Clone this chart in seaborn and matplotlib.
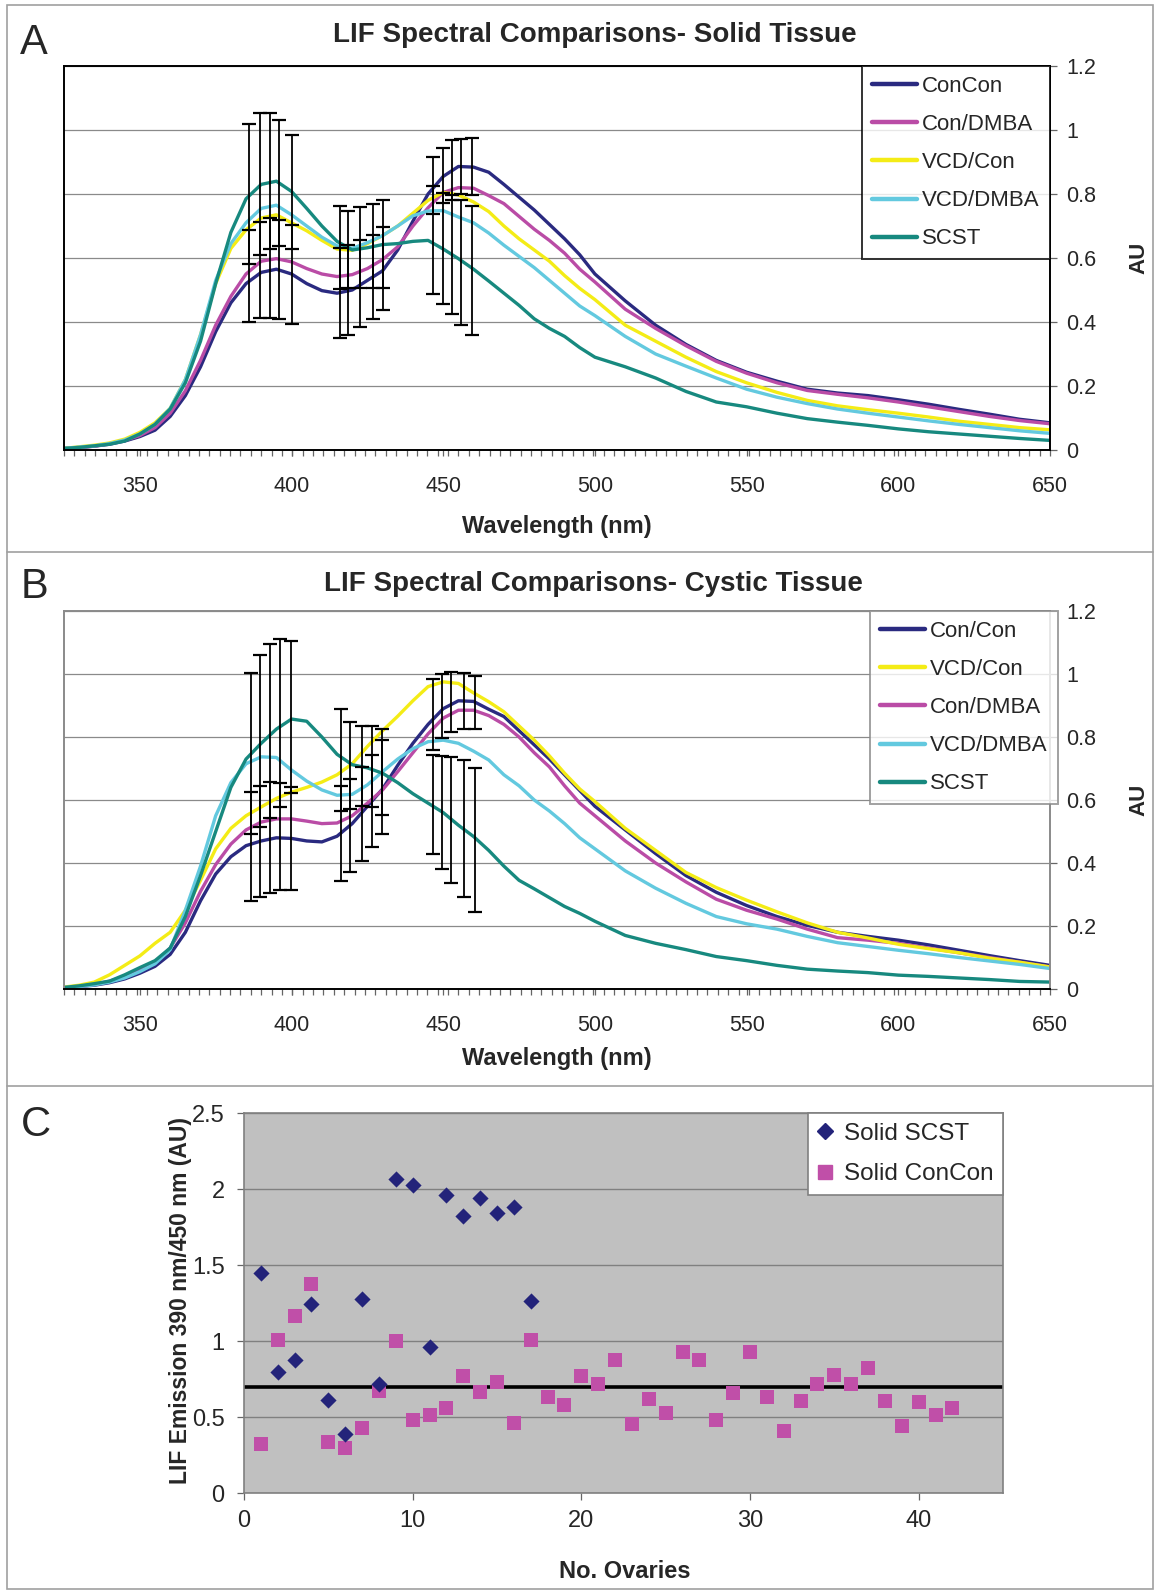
import matplotlib

matplotlib.use("Agg")
import matplotlib.pyplot as plt
import numpy as np
import pandas as pd
import seaborn as sns
from matplotlib.lines import Line2D
from matplotlib.patches import Rectangle
from matplotlib.ticker import FixedLocator

# ---------------- data ----------------
WAVELENGTH = [325, 330, 335, 340, 345, 350, 355, 360, 365, 370, 375, 380, 385, 390, 395,
              400, 405, 410, 415, 420, 425, 430, 435, 440, 445, 450, 455, 460, 465, 470,
              475, 480, 485, 490, 495, 500, 510, 520, 530, 540, 550, 560, 570, 580, 590,
              600, 610, 620, 630, 640, 650]

# Panel A - solid tissue
SOLID_CONCON = [0.005, 0.008, 0.012, 0.018, 0.028, 0.042, 0.062, 0.105, 0.17, 0.26, 0.37, 0.46, 0.52, 0.555, 0.565,
                0.55, 0.52, 0.498, 0.49, 0.50, 0.53, 0.56, 0.625, 0.715, 0.80, 0.855, 0.886, 0.884, 0.868, 0.83,
                0.79, 0.75, 0.705, 0.66, 0.61, 0.55, 0.466, 0.39, 0.33, 0.28, 0.243, 0.215, 0.19, 0.178, 0.17,
                0.157, 0.143, 0.127, 0.112, 0.096, 0.085]
SOLID_CONDMBA = [0.005, 0.008, 0.012, 0.02, 0.03, 0.045, 0.07, 0.115, 0.185, 0.28, 0.39, 0.48, 0.55, 0.59, 0.598,
                 0.588, 0.567, 0.55, 0.542, 0.548, 0.567, 0.595, 0.635, 0.70, 0.757, 0.805, 0.82, 0.818, 0.795, 0.77,
                 0.73, 0.69, 0.655, 0.615, 0.565, 0.525, 0.44, 0.38, 0.326, 0.277, 0.24, 0.21, 0.186, 0.174, 0.163,
                 0.15, 0.135, 0.12, 0.105, 0.092, 0.082]
SOLID_VCDCON = [0.005, 0.01, 0.015, 0.022, 0.034, 0.055, 0.085, 0.13, 0.22, 0.36, 0.52, 0.63, 0.688, 0.725, 0.735,
                0.71, 0.685, 0.655, 0.628, 0.624, 0.645, 0.67, 0.70, 0.74, 0.78, 0.805, 0.797, 0.775, 0.745, 0.70,
                0.66, 0.625, 0.59, 0.545, 0.505, 0.47, 0.39, 0.34, 0.29, 0.245, 0.21, 0.18, 0.155, 0.138, 0.126,
                0.115, 0.103, 0.09, 0.08, 0.07, 0.063]
SOLID_VCDDMBA = [0.005, 0.009, 0.013, 0.02, 0.031, 0.05, 0.08, 0.13, 0.22, 0.36, 0.53, 0.645, 0.71, 0.755, 0.765,
                 0.735, 0.70, 0.665, 0.638, 0.63, 0.648, 0.67, 0.70, 0.732, 0.747, 0.748, 0.728, 0.71, 0.678, 0.64,
                 0.605, 0.57, 0.53, 0.49, 0.45, 0.42, 0.355, 0.30, 0.262, 0.225, 0.19, 0.165, 0.145, 0.128, 0.115,
                 0.103, 0.091, 0.08, 0.07, 0.06, 0.052]
SOLID_SCST = [0.005, 0.008, 0.013, 0.018, 0.028, 0.05, 0.08, 0.128, 0.21, 0.34, 0.52, 0.68, 0.785, 0.83, 0.84,
              0.808, 0.755, 0.70, 0.652, 0.625, 0.632, 0.642, 0.645, 0.652, 0.655, 0.628, 0.598, 0.565, 0.528, 0.49,
              0.452, 0.41, 0.38, 0.355, 0.32, 0.29, 0.26, 0.225, 0.183, 0.15, 0.135, 0.115, 0.098, 0.087, 0.077,
              0.066, 0.057, 0.05, 0.043, 0.036, 0.03]

# Panel B - cystic tissue
CYSTIC_CONCON = [0.004, 0.008, 0.012, 0.02, 0.032, 0.05, 0.072, 0.11, 0.18, 0.28, 0.365, 0.42, 0.455, 0.47, 0.48,
                 0.478, 0.47, 0.467, 0.485, 0.525, 0.58, 0.635, 0.71, 0.78, 0.84, 0.89, 0.915, 0.913, 0.888, 0.865,
                 0.82, 0.775, 0.73, 0.68, 0.63, 0.58, 0.505, 0.43, 0.36, 0.307, 0.265, 0.23, 0.202, 0.18, 0.167,
                 0.155, 0.14, 0.123, 0.106, 0.09, 0.075]
CYSTIC_VCDCON = [0.006, 0.012, 0.022, 0.045, 0.075, 0.105, 0.145, 0.18, 0.25, 0.345, 0.445, 0.51, 0.55, 0.578, 0.605,
                 0.625, 0.64, 0.657, 0.68, 0.715, 0.77, 0.82, 0.866, 0.915, 0.96, 0.975, 0.97, 0.94, 0.912, 0.88,
                 0.835, 0.79, 0.74, 0.685, 0.635, 0.595, 0.51, 0.44, 0.37, 0.322, 0.282, 0.245, 0.21, 0.18, 0.162,
                 0.142, 0.128, 0.115, 0.098, 0.085, 0.07]
CYSTIC_CONDMBA = [0.004, 0.008, 0.014, 0.025, 0.04, 0.06, 0.085, 0.13, 0.21, 0.31, 0.395, 0.46, 0.505, 0.53, 0.54,
                  0.54, 0.533, 0.525, 0.527, 0.55, 0.59, 0.632, 0.69, 0.75, 0.81, 0.86, 0.885, 0.885, 0.868, 0.84,
                  0.80, 0.75, 0.705, 0.645, 0.59, 0.55, 0.47, 0.40, 0.34, 0.285, 0.25, 0.222, 0.19, 0.163, 0.155,
                  0.145, 0.13, 0.115, 0.10, 0.085, 0.07]
CYSTIC_VCDDMBA = [0.004, 0.008, 0.013, 0.022, 0.035, 0.055, 0.08, 0.125, 0.25, 0.39, 0.55, 0.655, 0.715, 0.737, 0.735,
                  0.695, 0.66, 0.632, 0.615, 0.618, 0.648, 0.69, 0.73, 0.763, 0.785, 0.79, 0.78, 0.755, 0.727, 0.68,
                  0.645, 0.60, 0.565, 0.525, 0.48, 0.445, 0.375, 0.32, 0.272, 0.23, 0.207, 0.19, 0.167, 0.147, 0.135,
                  0.123, 0.112, 0.10, 0.089, 0.078, 0.065]
CYSTIC_SCST = [0.005, 0.01, 0.017, 0.025, 0.045, 0.068, 0.09, 0.13, 0.23, 0.36, 0.50, 0.64, 0.73, 0.78, 0.825,
               0.857, 0.85, 0.80, 0.745, 0.712, 0.702, 0.685, 0.655, 0.62, 0.59, 0.56, 0.52, 0.484, 0.44, 0.39,
               0.345, 0.318, 0.29, 0.262, 0.24, 0.215, 0.17, 0.145, 0.125, 0.103, 0.09, 0.075, 0.063, 0.057, 0.052,
               0.044, 0.04, 0.035, 0.03, 0.024, 0.022]

# error bars (mean +/- sd) on ConCon and SCST
ERR_WL_A = [386, 389.5, 393, 396, 400, 416, 418.5, 422.5, 427, 430, 446.5, 450, 453, 456, 459.5]
ERR_CONCON_MEAN_A = [0.545, 0.562, 0.569, 0.564, 0.549, 0.49, 0.50, 0.52, 0.54, 0.566, 0.826, 0.858, 0.875, 0.887, 0.885]
ERR_CONCON_SD_A = [0.144, 0.149, 0.155, 0.155, 0.154, 0.14, 0.14, 0.136, 0.132, 0.13, 0.09, 0.085, 0.093, 0.086, 0.089]
ERR_SCST_MEAN_A = [0.80, 0.832, 0.841, 0.834, 0.806, 0.633, 0.626, 0.633, 0.637, 0.643, 0.656, 0.63, 0.61, 0.585, 0.56]
ERR_SCST_SD_A = [0.218, 0.222, 0.213, 0.196, 0.178, 0.13, 0.12, 0.127, 0.132, 0.138, 0.168, 0.173, 0.186, 0.195, 0.202]

ERR_WL_B = [386.6, 389.7, 392.8, 396.3, 399.8, 416.4, 419.2, 423.2, 426.5, 429.8, 446.6, 449.5, 452.7, 456.8, 460.6]
ERR_CONCON_MEAN_B = [0.452, 0.469, 0.481, 0.483, 0.477, 0.494, 0.519, 0.556, 0.597, 0.64, 0.871, 0.898, 0.912, 0.914, 0.909]
ERR_CONCON_SD_B = [0.174, 0.176, 0.177, 0.17, 0.163, 0.152, 0.149, 0.15, 0.146, 0.149, 0.112, 0.102, 0.095, 0.088, 0.085]
ERR_SCST_MEAN_B = [0.747, 0.786, 0.818, 0.844, 0.863, 0.727, 0.709, 0.709, 0.707, 0.689, 0.586, 0.561, 0.537, 0.51, 0.474]
ERR_SCST_SD_B = [0.255, 0.273, 0.276, 0.266, 0.242, 0.161, 0.138, 0.127, 0.128, 0.137, 0.157, 0.179, 0.20, 0.217, 0.229]

# Panel C - 390/450 ratio per ovary
OVARY_SCST = list(range(1, 18))
RATIO_SCST = [1.446, 0.794, 0.875, 1.241, 0.615, 0.39, 1.276, 0.718, 2.068, 2.024, 0.958, 1.963, 1.823,
              1.941, 1.842, 1.88, 1.265]
OVARY_CONCON = list(range(1, 43))
RATIO_CONCON = [0.322, 1.009, 1.162, 1.376, 0.335, 0.298, 0.429, 0.674, 0.998, 0.477, 0.51, 0.558, 0.772, 0.663,
                0.733, 0.462, 1.009, 0.63, 0.58, 0.772, 0.718, 0.877, 0.455, 0.619, 0.525, 0.926, 0.877, 0.477,
                0.659, 0.926, 0.63, 0.407, 0.608, 0.718, 0.777, 0.718, 0.821, 0.608, 0.44, 0.597, 0.514, 0.56]
THRESHOLD = 0.7

COLORS = {"ConCon": "#2A2A80", "Con/DMBA": "#BA4CA6", "VCD/Con": "#F4EC16",
          "VCD/DMBA": "#63C9DF", "SCST": "#17897F"}

W, H = 1155, 1591


def fx(px):
    return px / W


def fy(py):
    return 1 - py / H


def spectral_panel(ax, series, order, err_wl, err_sets, spine_color):
    rows = []
    for name, vals in series.items():
        rows.append(pd.DataFrame({"wl": WAVELENGTH, "au": vals, "group": name}))
    df = pd.concat(rows, ignore_index=True)
    pal = {k: COLORS[k.replace("Con/Con", "ConCon")] for k in series}
    sns.lineplot(data=df, x="wl", y="au", hue="group", hue_order=list(series.keys()),
                 palette=pal, linewidth=2.4, errorbar=None, legend=False, ax=ax, zorder=2)
    for mean, sd in err_sets:
        ax.errorbar(err_wl, mean, yerr=sd, fmt="none", ecolor="black", elinewidth=1.3,
                    capsize=5, capthick=1.6, zorder=3)
    ax.set_xlim(325, 650)
    ax.set_ylim(0, 1.2)
    ax.set_xlabel("")
    ax.set_ylabel("")
    ax.yaxis.tick_right()
    ax.set_yticks([0, 0.2, 0.4, 0.6, 0.8, 1.0, 1.2])
    ax.set_yticklabels(["0", "0.2", "0.4", "0.6", "0.8", "1", "1.2"])
    ax.set_xticks([350, 400, 450, 500, 550, 600, 650])
    ax.xaxis.set_minor_locator(FixedLocator(np.linspace(325, 650, 96)))
    ax.tick_params(axis="x", which="both", direction="out", length=4.5, width=0.9,
                   color="#666666", labelsize=15.5, pad=14, bottom=True)
    ax.tick_params(axis="y", which="major", direction="out", length=5, width=0.9,
                   color="#666666", labelsize=15.5, pad=6.5, right=True, left=False)
    ax.grid(axis="y", color="#8a8a8a", linewidth=0.9)
    ax.grid(axis="x", visible=False)
    ax.set_axisbelow(True)
    for sp in ax.spines.values():
        sp.set_color(spine_color)
        sp.set_linewidth(1.4)
    ax.spines["bottom"].set_color("black")
    handles = [Line2D([], [], color=pal[k], lw=3.2) for k in order]
    leg = ax.legend(handles, order, loc="upper right", bbox_to_anchor=(1.0, 1.0),
                    borderaxespad=0, frameon=True, fancybox=False, fontsize=16,
                    handlelength=2.0, handletextpad=0.25, labelspacing=0.77,
                    borderpad=0.45)
    leg.get_frame().set_edgecolor(spine_color)
    leg.get_frame().set_linewidth(1.4)
    leg.set_zorder(5)
    return leg


sns.set_theme(style="white")
plt.rcParams["font.family"] = ["Liberation Sans", "DejaVu Sans"]

fig = plt.figure(figsize=(W / 100, H / 100), dpi=100)

# panel frames
fig.add_artist(Rectangle((fx(7), fy(1589)), fx(1153) - fx(7), fy(5) - fy(1589),
                         transform=fig.transFigure, fill=False, edgecolor="#a0a0a0", lw=1.2))
for yy in (552, 1086):
    fig.add_artist(Line2D([fx(7), fx(1153)], [fy(yy), fy(yy)], transform=fig.transFigure,
                          color="#a0a0a0", lw=1.2))

# ---- Panel A ----
ax_a = fig.add_axes([fx(64), fy(450), fx(1050) - fx(64), fy(66) - fy(450)])
solid = {"ConCon": SOLID_CONCON, "Con/DMBA": SOLID_CONDMBA, "VCD/Con": SOLID_VCDCON,
         "VCD/DMBA": SOLID_VCDDMBA, "SCST": SOLID_SCST}
spectral_panel(ax_a, solid, ["ConCon", "Con/DMBA", "VCD/Con", "VCD/DMBA", "SCST"], ERR_WL_A,
               [(ERR_CONCON_MEAN_A, ERR_CONCON_SD_A), (ERR_SCST_MEAN_A, ERR_SCST_SD_A)], "black")
fig.text(fx(595), fy(35), "LIF Spectral Comparisons- Solid Tissue", ha="center", va="center",
         fontsize=20, fontweight="bold")
fig.text(fx(557), fy(527), "Wavelength (nm)", ha="center", va="center", fontsize=17, fontweight="bold")
fig.text(fx(1139), fy(258), "AU", ha="center", va="center", rotation=90, fontsize=16, fontweight="bold")
fig.text(fx(34), fy(43), "A", ha="center", va="center", fontsize=30)

# ---- Panel B ----
ax_b = fig.add_axes([fx(64), fy(989), fx(1050) - fx(64), fy(611) - fy(989)])
cystic = {"Con/Con": CYSTIC_CONCON, "Con/DMBA": CYSTIC_CONDMBA, "VCD/Con": CYSTIC_VCDCON,
          "VCD/DMBA": CYSTIC_VCDDMBA, "SCST": CYSTIC_SCST}
leg_b = spectral_panel(ax_b, cystic, ["Con/Con", "VCD/Con", "Con/DMBA", "VCD/DMBA", "SCST"], ERR_WL_B,
                       [(ERR_CONCON_MEAN_B, ERR_CONCON_SD_B), (ERR_SCST_MEAN_B, ERR_SCST_SD_B)], "#8a8a8a")
leg_b.set_bbox_to_anchor((1.008, 1.0), transform=ax_b.transAxes)
fig.text(fx(593), fy(584), "LIF Spectral Comparisons- Cystic Tissue", ha="center", va="center",
         fontsize=20, fontweight="bold")
fig.text(fx(557), fy(1059), "Wavelength (nm)", ha="center", va="center", fontsize=17, fontweight="bold")
fig.text(fx(1139), fy(800), "AU", ha="center", va="center", rotation=90, fontsize=16, fontweight="bold")
fig.text(fx(34), fy(587), "B", ha="center", va="center", fontsize=30)

# ---- Panel C ----
ax_c = fig.add_axes([fx(244), fy(1493), fx(1003) - fx(244), fy(1113) - fy(1493)])
ax_c.set_facecolor("#c0c0c0")
df_scst = pd.DataFrame({"ovary": OVARY_SCST, "ratio": RATIO_SCST})
df_con = pd.DataFrame({"ovary": OVARY_CONCON, "ratio": RATIO_CONCON})
ax_c.axhline(THRESHOLD, color="black", lw=2.6, zorder=2)
sns.scatterplot(data=df_con, x="ovary", y="ratio", marker="s", color="#C04FA8", s=88,
                linewidth=0, ax=ax_c, zorder=3)
sns.scatterplot(data=df_scst, x="ovary", y="ratio", marker="D", color="#23237A", s=68,
                linewidth=0, ax=ax_c, zorder=4)
ax_c.set_xlim(0, 45)
ax_c.set_ylim(0, 2.5)
ax_c.set_xticks([0, 10, 20, 30, 40])
ax_c.set_yticks([0, 0.5, 1.0, 1.5, 2.0, 2.5])
ax_c.set_yticklabels(["0", "0.5", "1", "1.5", "2", "2.5"])
ax_c.set_xlabel("")
ax_c.set_ylabel("")
ax_c.tick_params(axis="both", direction="out", length=5, width=0.9, color="#666666",
                 labelsize=17, left=True, bottom=True)
ax_c.tick_params(axis="x", pad=7)
ax_c.tick_params(axis="y", pad=9)
ax_c.grid(axis="y", color="#808080", linewidth=1.0)
ax_c.grid(axis="x", visible=False)
ax_c.set_axisbelow(True)
for sp in ax_c.spines.values():
    sp.set_color("#808080")
    sp.set_linewidth(1.2)
c_handles = [Line2D([], [], marker="D", ls="none", color="#23237A", markersize=8.2),
             Line2D([], [], marker="s", ls="none", color="#C04FA8", markersize=9.4)]
leg_c = ax_c.legend(c_handles, ["Solid SCST", "Solid ConCon"], loc="upper right",
                    bbox_to_anchor=(1.0, 1.0), borderaxespad=0, frameon=True, fancybox=False,
                    fontsize=17.5, handlelength=0.6, handletextpad=0.45, labelspacing=0.77,
                    borderpad=0.4, facecolor="white", framealpha=1)
leg_c.get_frame().set_edgecolor("#808080")
leg_c.get_frame().set_linewidth(1.2)
fig.text(fx(181), fy(1301), "LIF Emission 390 nm/450 nm (AU)", ha="center", va="center",
         rotation=90, fontsize=16.5, fontweight="bold")
fig.text(fx(625), fy(1571), "No. Ovaries", ha="center", va="center", fontsize=17, fontweight="bold")
fig.text(fx(36), fy(1125), "C", ha="center", va="center", fontsize=30)

fig.savefig("out.png", dpi=100)
plt.close(fig)
